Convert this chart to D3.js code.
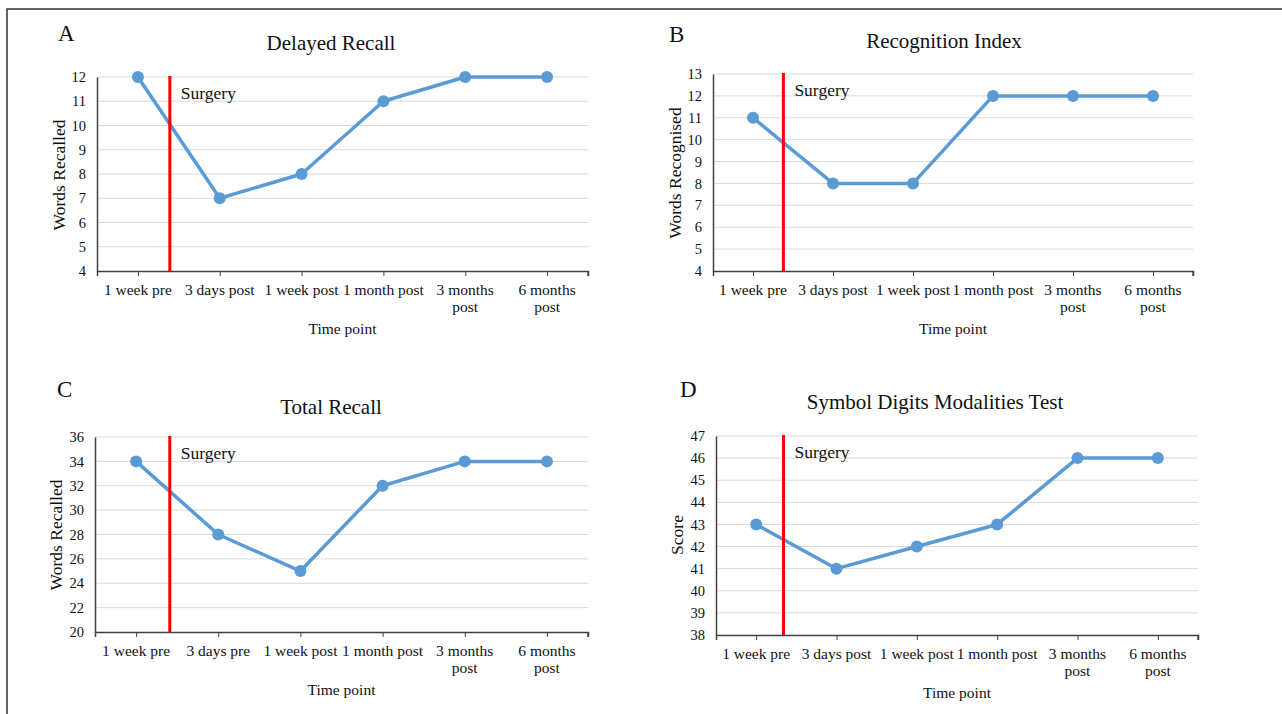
<!DOCTYPE html>
<html>
<head>
<meta charset="utf-8">
<script src="https://cdn.jsdelivr.net/npm/d3@7/dist/d3.min.js"></script>
<style>
  html, body { margin: 0; padding: 0; background: #fff; }
  svg { display: block; font-family: "Liberation Serif", "Times New Roman", serif; }
</style>
</head>
<body>
<svg id="chart" width="1282" height="714"></svg>
<script>
// ---------- DATA ----------
const panelLetters = ["A", "B", "C", "D"];
const panelTitles = ["Delayed Recall", "Recognition Index", "Total Recall", "Symbol Digits Modalities Test"];
const yAxisLabels = ["Words Recalled", "Words Recognised", "Words Recalled", "Score"];
const xAxisLabel = "Time point";
const surgeryLabel = "Surgery";

const categoriesPost = ["1 week pre", "3 days post", "1 week post", "1 month post", "3 months\npost", "6 months\npost"];
const categoriesPre  = ["1 week pre", "3 days pre", "1 week post", "1 month post", "3 months\npost", "6 months\npost"];

const delayedRecall    = [12, 7, 8, 11, 12, 12];
const recognitionIndex = [11, 8, 8, 12, 12, 12];
const totalRecall      = [34, 28, 25, 32, 34, 34];
const sdmtScore        = [43, 41, 42, 43, 46, 46];

const yDomains = [[4, 12], [4, 13], [20, 36], [38, 47]];
const yTickSteps = [1, 1, 2, 1];
// surgery marker position, in category-index units (between 1 week pre and the next time point)
const surgeryAt = [0.39, 0.38, 0.41, 0.34];

// ---------- LAYOUT ----------
const panels = [
  { cats: categoriesPost, values: delayedRecall,    box: { l: 97,  r: 588,  t: 77,  b: 271 }, letter: [58, 41],  title: [331, 50],  ylab: [59, 175] },
  { cats: categoriesPost, values: recognitionIndex, box: { l: 713, r: 1193, t: 74,  b: 271 }, letter: [669, 42], title: [944, 48],  ylab: [675, 173] },
  { cats: categoriesPre,  values: totalRecall,      box: { l: 95,  r: 588,  t: 437, b: 632 }, letter: [57, 397], title: [331, 414], ylab: [56, 535] },
  { cats: categoriesPost, values: sdmtScore,        box: { l: 716, r: 1198, t: 436, b: 635 }, letter: [680, 397],title: [935, 409], ylab: [677, 535] }
];

const svg = d3.select("#chart");

// outer frame (top and left edges visible)
svg.append("path")
  .attr("d", "M7,714 L7,9 L1282,9")
  .attr("fill", "none").attr("stroke", "#333").attr("stroke-width", 1.5);

panels.forEach((p, i) => {
  const g = svg.append("g");
  const B = p.box;
  const x = d3.scaleLinear().domain([-0.5, p.cats.length - 0.5]).range([B.l, B.r]);
  const [y0, y1] = yDomains[i];
  const y = d3.scaleLinear().domain([y0, y1]).range([B.b, B.t]);
  const ticks = d3.range(y0, y1 + 0.001, yTickSteps[i]);

  // gridlines
  g.append("g").selectAll("line").data(ticks.filter(t => t !== y0)).join("line")
    .attr("x1", B.l).attr("x2", B.r)
    .attr("y1", d => y(d)).attr("y2", d => y(d))
    .attr("stroke", "#d9d9d9").attr("stroke-width", 1);

  // y axis
  const yAxis = d3.axisLeft(y).tickValues(ticks).tickSize(0).tickPadding(11).tickFormat(d3.format("d"));
  const ya = g.append("g").attr("transform", `translate(${B.l},0)`).call(yAxis);
  ya.select(".domain").attr("stroke", "#404040").attr("stroke-width", 1.5);
  ya.selectAll("text").attr("font-size", 14.5).attr("fill", "#111")
    .attr("font-family", "Liberation Serif, Times New Roman, serif");

  // x axis
  const xAxis = d3.axisBottom(x).tickValues(d3.range(p.cats.length)).tickSize(5).tickFormat(() => "");
  const xa = g.append("g").attr("transform", `translate(0,${B.b})`).call(xAxis);
  xa.select(".domain").attr("stroke", "#404040").attr("stroke-width", 1.5);
  xa.selectAll(".tick line").attr("stroke", "#404040");
  // right-end tick
  g.append("line").attr("x1", B.r).attr("x2", B.r).attr("y1", B.b).attr("y2", B.b + 5)
    .attr("stroke", "#404040").attr("stroke-width", 1.3);

  // category labels
  p.cats.forEach((c, k) => {
    const t = g.append("text").attr("text-anchor", "middle").attr("font-size", 15.5).attr("fill", "#111");
    c.split("\n").forEach((line, li) => {
      t.append("tspan").attr("x", x(k)).attr("y", B.b + 23.5 + li * 17.5).text(line);
    });
  });

  // x title
  g.append("text").attr("x", (B.l + B.r) / 2).attr("y", B.b + 62.5)
    .attr("text-anchor", "middle").attr("font-size", 15.5).attr("fill", "#111").text(xAxisLabel);

  // y title
  g.append("text").attr("transform", `translate(${p.ylab[0]},${p.ylab[1]}) rotate(-90)`)
    .attr("text-anchor", "middle").attr("dominant-baseline", "central")
    .attr("font-size", 17.5).attr("fill", "#111").text(yAxisLabels[i]);

  // chart title
  g.append("text").attr("x", p.title[0]).attr("y", p.title[1])
    .attr("text-anchor", "middle").attr("font-size", 21).attr("fill", "#111").text(panelTitles[i]);

  // panel letter
  g.append("text").attr("x", p.letter[0]).attr("y", p.letter[1])
    .attr("font-size", 23).attr("fill", "#111").text(panelLetters[i]);

  // data line
  const line = d3.line().x((d, k) => x(k)).y(d => y(d));
  g.append("path").datum(p.values).attr("d", line)
    .attr("fill", "none").attr("stroke", "#5b9bd5").attr("stroke-width", 3.5).attr("stroke-linejoin", "round");

  // markers
  g.append("g").selectAll("circle").data(p.values).join("circle")
    .attr("cx", (d, k) => x(k)).attr("cy", d => y(d)).attr("r", 6)
    .attr("fill", "#5b9bd5");

  // surgery line
  g.append("line").attr("x1", x(surgeryAt[i])).attr("x2", x(surgeryAt[i]))
    .attr("y1", B.t - 1).attr("y2", B.b)
    .attr("stroke", "#ff0000").attr("stroke-width", 3);

  g.append("text").attr("x", x(surgeryAt[i]) + 11).attr("y", y(y1) + 22)
    .attr("font-size", 17.5).attr("fill", "#111").text(surgeryLabel);
});
</script>
</body>
</html>
